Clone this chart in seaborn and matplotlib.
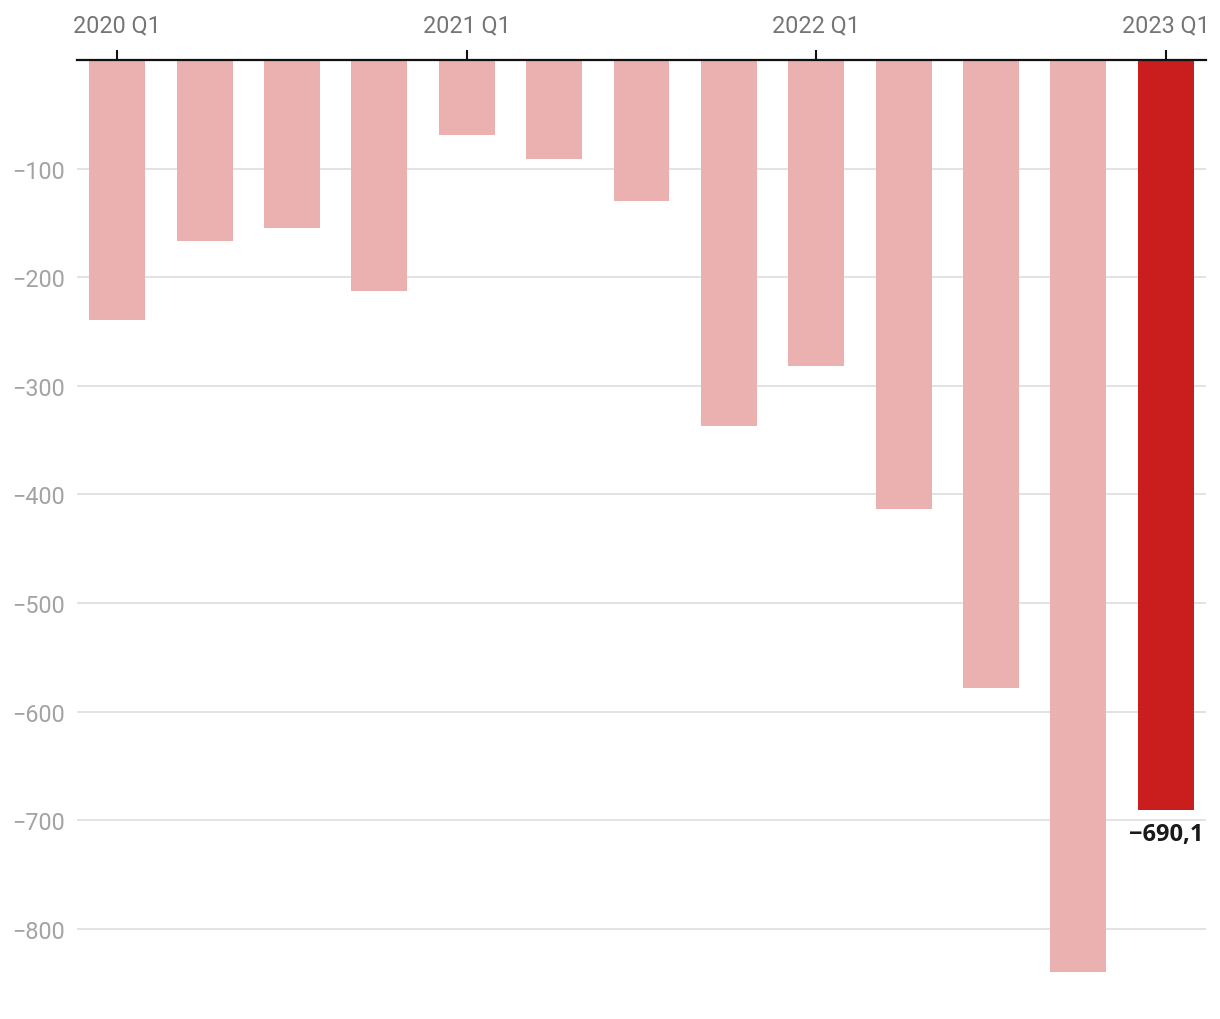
import matplotlib
matplotlib.use("Agg")
import matplotlib.pyplot as plt
import seaborn as sns
import pandas as pd

quarters = ["2020 Q1", "2020 Q2", "2020 Q3", "2020 Q4",
            "2021 Q1", "2021 Q2", "2021 Q3", "2021 Q4",
            "2022 Q1", "2022 Q2", "2022 Q3", "2022 Q4",
            "2023 Q1"]
values = [-239, -167, -155, -213, -69, -91, -130, -337, -282, -413, -578, -840, -690.1]
tick_labels = ["2020 Q1", "2021 Q1", "2022 Q1", "2023 Q1"]
y_ticks = [-100, -200, -300, -400, -500, -600, -700, -800]
highlight_label = "−690,1"

light = "#EBB1B0"
dark = "#C91D1E"

sns.set_theme(style="white")
plt.rcParams["font.family"] = ["Roboto", "DejaVu Sans"]

df = pd.DataFrame({"quarter": quarters, "value": values})
palette = {q: (dark if i == len(quarters) - 1 else light) for i, q in enumerate(quarters)}

fig = plt.figure(figsize=(12.2, 10.2), dpi=100)
ax = fig.add_axes([77 / 1220, 1 - 1006 / 1020, (1206 - 77) / 1220, (1006 - 61) / 1020])

sns.barplot(data=df, x="quarter", y="value", hue="quarter", palette=palette,
            order=quarters, width=0.64, legend=False, ax=ax, saturation=1,
            linewidth=0, edgecolor="none", zorder=3)

ax.set_xlim(-0.46, len(quarters) - 0.54)
ax.set_ylim(-870, 0)

# gridlines
ax.set_yticks(y_ticks)
ax.set_yticklabels([f"−{abs(v)}" for v in y_ticks])
ax.grid(axis="y", color="#e3e3e3", linewidth=1.4, zorder=0)
ax.grid(axis="x", visible=False)
ax.set_axisbelow(True)

ax.tick_params(axis="y", length=0, pad=46.8, labelsize=16.8, labelcolor="#a3a3a3")
for lbl in ax.get_yticklabels():
    lbl.set_horizontalalignment("left")

# x-axis on top
ax.xaxis.tick_top()
idx = [quarters.index(t) for t in tick_labels]
ax.set_xticks(idx)
ax.set_xticklabels(tick_labels)
ax.tick_params(axis="x", top=True, bottom=False, length=7.2, width=1.5, color="#111111",
               pad=10, labelsize=16.8, labelcolor="#757575")

for s in ["left", "right", "bottom"]:
    ax.spines[s].set_visible(False)
ax.spines["top"].set_visible(True)
ax.spines["top"].set_color("#111111")
ax.spines["top"].set_linewidth(1.6)
ax.spines["top"].set_zorder(5)

ax.set_xlabel("")
ax.set_ylabel("")

ax.annotate(highlight_label, xy=(len(quarters) - 1, values[-1]), xytext=(0, -9),
            textcoords="offset points", ha="center", va="top",
            fontsize=17, fontweight="bold", color="#1a1a1a",
            family=["Open Sans", "DejaVu Sans"])

fig.savefig("out.png", dpi=100, facecolor="white")
